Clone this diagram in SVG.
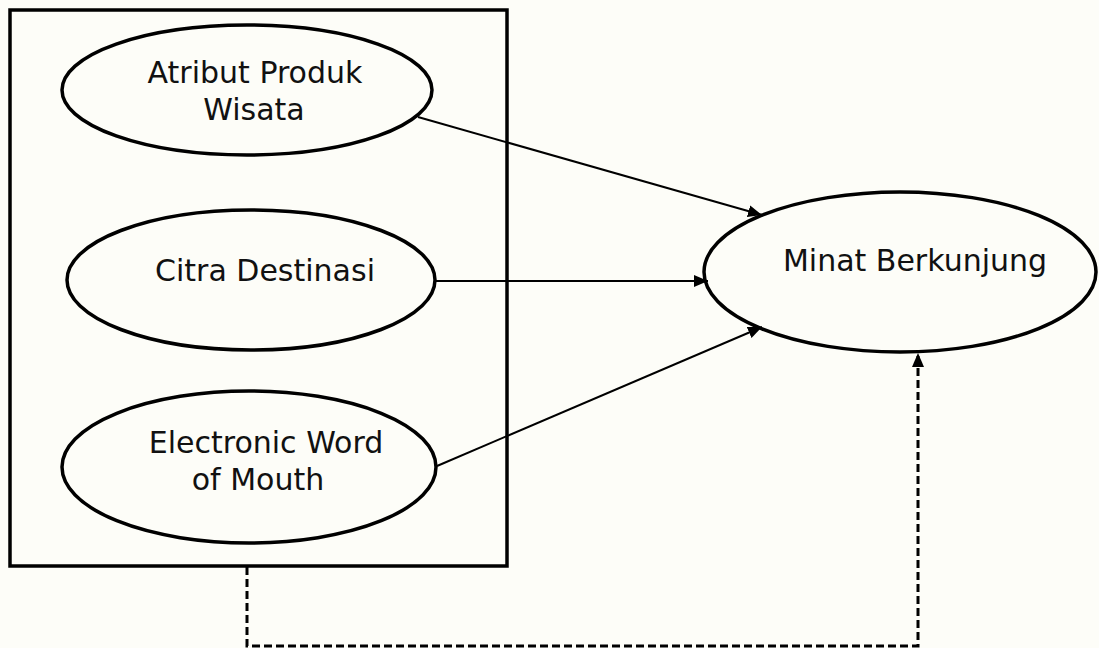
<svg xmlns="http://www.w3.org/2000/svg" width="1099" height="648" viewBox="0 0 1099 648">
<defs>
<style>
.node ellipse{fill:none;stroke:#000;stroke-width:3.5}
.box{fill:none;stroke:#000;stroke-width:3.5}
text{font-family:"DejaVu Sans",sans-serif;font-size:30px;fill:#111;text-anchor:middle}
.conn{fill:none;stroke:#000;stroke-width:2}
.dash{fill:none;stroke:#000;stroke-width:3;stroke-dasharray:8 4}
</style>
<marker id="ah" viewBox="0 0 14 12" refX="14" refY="6" markerWidth="14" markerHeight="12" markerUnits="userSpaceOnUse" orient="auto">
<path d="M0,0 L14,6 L0,12 Z" fill="#000"/>
</marker>
<marker id="ah2" viewBox="0 0 14 12" refX="14" refY="6" markerWidth="14" markerHeight="12" markerUnits="userSpaceOnUse" orient="auto">
<path d="M0,0 L14,6 L0,12 Z" fill="#000"/>
</marker>
</defs>
<rect width="1099" height="648" fill="#fdfdf8"/>
<rect id="group-box" class="box" x="10" y="10" width="497" height="556"/>
<g id="n-atribut" class="node">
<ellipse cx="247" cy="90" rx="185" ry="65"/>
<text x="255" y="83">Atribut Produk</text>
<text x="254" y="120">Wisata</text>
</g>
<g id="n-citra" class="node">
<ellipse cx="251" cy="280" rx="184" ry="70"/>
<text x="265" y="281">Citra Destinasi</text>
</g>
<g id="n-ewom" class="node">
<ellipse cx="249" cy="467" rx="187" ry="76"/>
<text x="266" y="453">Electronic Word</text>
<text x="258" y="490">of Mouth</text>
</g>
<g id="n-minat" class="node">
<ellipse cx="900" cy="272" rx="196" ry="80"/>
<text x="915" y="271">Minat Berkunjung</text>
</g>
<g id="connectors">
<line class="conn" x1="418" y1="117" x2="762" y2="215" marker-end="url(#ah)"/>
<line class="conn" x1="434" y1="281" x2="708" y2="281" marker-end="url(#ah)"/>
<line class="conn" x1="437" y1="466" x2="762" y2="327" marker-end="url(#ah)"/>
<path class="dash" d="M247,567 L247,646 L918,646 L918,353" marker-end="url(#ah2)"/>
</g>
</svg>
